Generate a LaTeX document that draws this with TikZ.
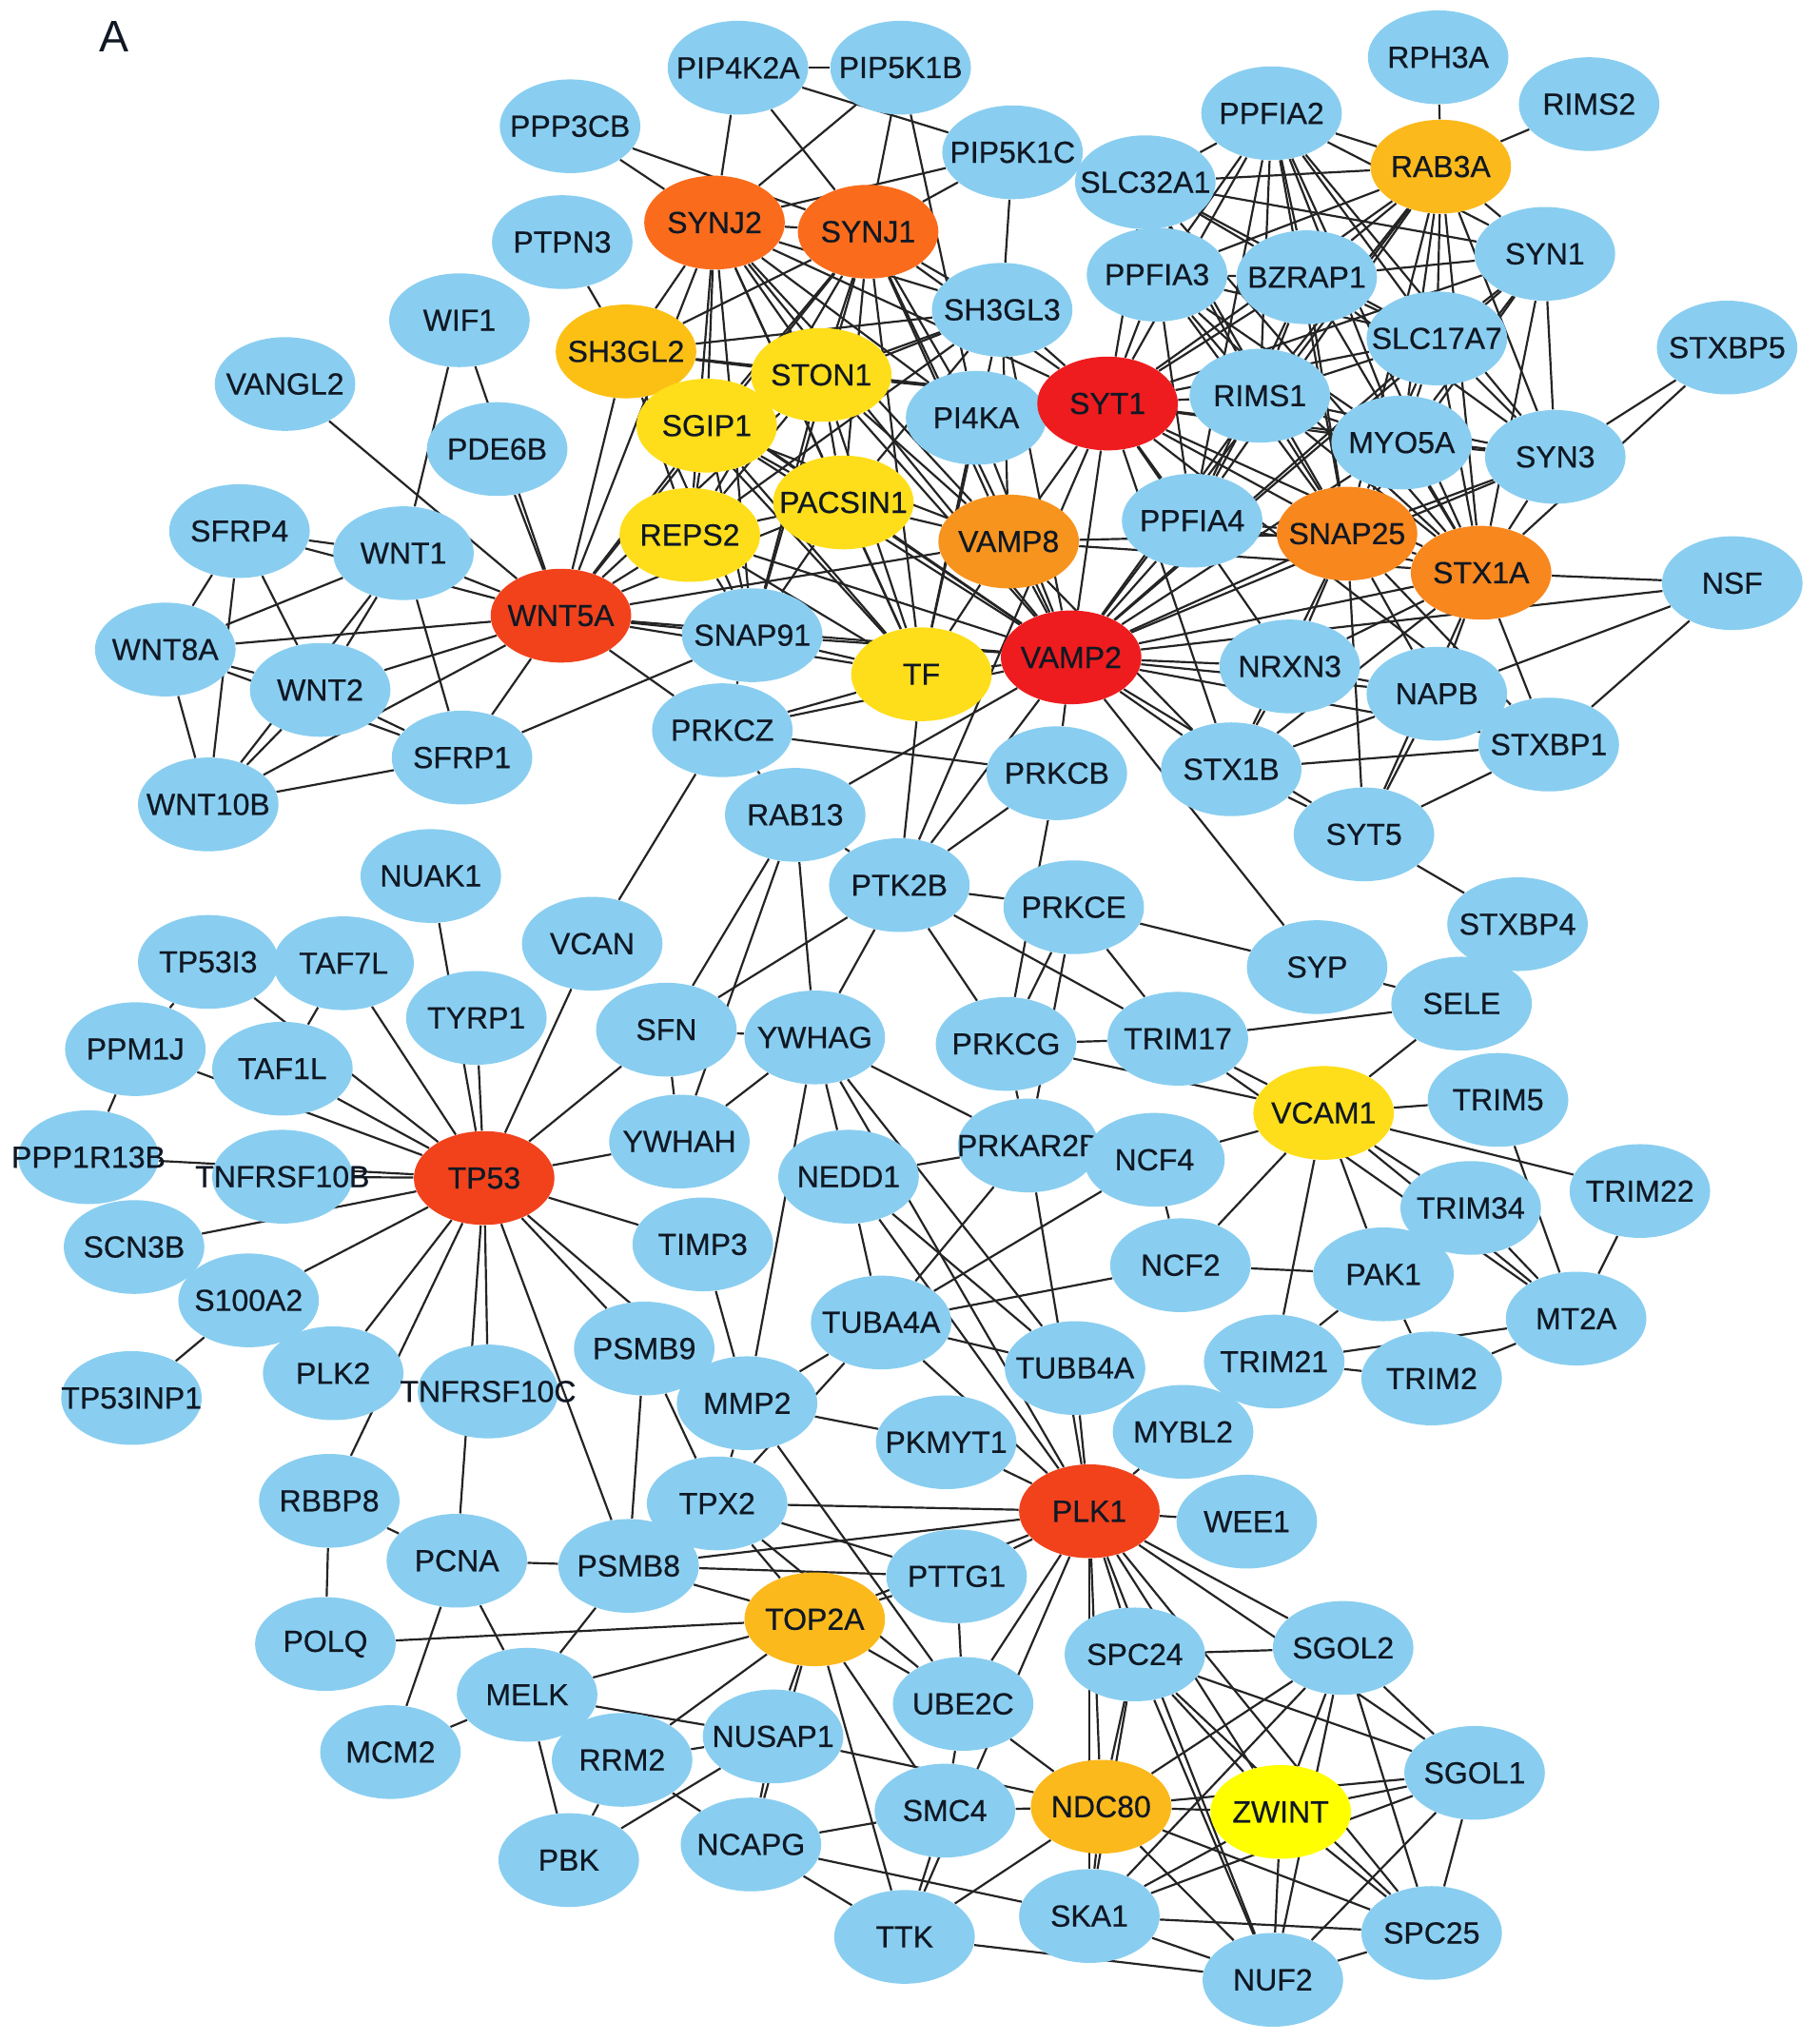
\documentclass[tikz,border=0pt]{standalone}
\usepackage{fontspec}
\setmainfont{Liberation Sans}
\newfontfamily\genefont{Liberation Sans}[FakeBold=0.5]
\usetikzlibrary{shapes.geometric,backgrounds}
\definecolor{gblue}{RGB}{137,206,240}
\definecolor{cred}{RGB}{238,28,30}
\definecolor{cro}{RGB}{241,66,28}
\definecolor{corgA}{RGB}{250,108,28}
\definecolor{corgB}{RGB}{248,135,30}
\definecolor{corgC}{RGB}{247,148,30}
\definecolor{camb}{RGB}{252,185,28}
\definecolor{cambB}{RGB}{252,192,20}
\definecolor{cyel}{RGB}{254,222,26}
\definecolor{czw}{RGB}{255,255,0}
\definecolor{gtxt}{RGB}{16,24,36}
\definecolor{edgec}{RGB}{36,36,36}
\tikzset{
  gene/.style={ellipse, minimum width=54pt, minimum height=36pt, inner sep=0pt,
    fill=gblue, text=gtxt, font=\genefont\fontsize{11.7}{13}\selectfont},
  link/.style={draw=edgec, line width=0.8pt}
}
\newcommand{\gname}[1]{\makebox[0pt][c]{#1}}
\begin{document}
\begin{tikzpicture}[x=0.5pt,y=-0.5pt]
\useasboundingbox (0,0) rectangle (1398,1568);
\begin{pgfonlayer}{background}
\fill[white] (0,0) rectangle (1398,1568);
\end{pgfonlayer}
\node[font=\fontsize{17}{19}\selectfont, text=gtxt] (lblA) at (88,28) {A};
% blue nodes
\foreach \n/\x/\y in {
PIP4K2A/567/52, PIP5K1B/692/52, PPP3CB/438/97, PIP5K1C/778/117, SLC32A1/880/140,
PPFIA2/977/87, RPH3A/1105/44, RIMS2/1221/80, PTPN3/432/186, SH3GL3/770/238,
PPFIA3/889/211, BZRAP1/1004/213, SYN1/1187/195, SLC17A7/1104/260, STXBP5/1327/267,
WIF1/353/246, PI4KA/750/321, RIMS1/968/304, MYO5A/1077/340, SYN3/1195/351,
VANGL2/219/295, PDE6B/382/345, PPFIA4/916/400, NSF/1331/448, SFRP4/184/408,
WNT1/310/425, SNAP91/578/488, NRXN3/991/512, NAPB/1104/533, STXBP1/1190/572,
WNT8A/127/499, WNT2/246/530, SFRP1/355/582, WNT10B/160/618, PRKCZ/555/561,
PRKCB/812/594, STX1B/946/591, SYT5/1048/641, RAB13/611/626, PTK2B/691/680,
PRKCE/825/697, STXBP4/1166/710, NUAK1/331/673, VCAN/455/725, TP53I3/160/739,
TAF7L/264/740, SYP/1012/743, SELE/1123/771, TYRP1/366/782, SFN/512/791,
YWHAG/626/797, PRKCG/773/802, TRIM17/905/798, PPM1J/104/806, TAF1L/217/821,
TRIM5/1151/845, YWHAH/522/877, PRKAR2B/790/880, NCF4/887/891, NEDD1/652/904,
PPP1R13B/68/889, TNFRSF10B/217/904, TRIM34/1130/928, TRIM22/1260/915, SCN3B/103/958,
TIMP3/540/956, NCF2/907/972, PAK1/1063/979, S100A2/191/999, MT2A/1211/1013,
TUBA4A/677/1016, PSMB9/495/1036, PLK2/256/1055, TNFRSF10C/375/1069, TRIM21/979/1046,
TUBB4A/826/1051, TRIM2/1100/1059, TP53INP1/101/1074, MMP2/574/1078, PKMYT1/727/1108,
MYBL2/909/1100, RBBP8/253/1153, TPX2/551/1155, WEE1/958/1169, PCNA/351/1199,
PSMB8/483/1203, PTTG1/735/1211, POLQ/250/1263, SPC24/872/1271, SGOL2/1032/1266,
MELK/405/1302, UBE2C/740/1309, MCM2/300/1346, RRM2/478/1352, NUSAP1/594/1334,
SGOL1/1133/1362, SMC4/726/1391, PBK/437/1429, NCAPG/577/1417, TTK/695/1488,
SKA1/837/1472, SPC25/1100/1485, NUF2/978/1521}
  \node[gene] (\n) at (\x,\y) {\gname{\n}};
% coloured nodes
\foreach \n/\x/\y/\c in {
VAMP2/823/505/cred, SYT1/851/310/cred, WNT5A/431/473/cro, TP53/372/905/cro,
PLK1/837/1161/cro, SYNJ2/549/171/corgA, SYNJ1/667/178/corgA, SNAP25/1035/410/corgB,
STX1A/1138/440/corgB, VAMP8/775/416/corgC, RAB3A/1107/128/camb, TOP2A/626/1244/camb,
NDC80/846/1388/camb, SH3GL2/481/270/cambB, STON1/631/288/cyel, SGIP1/543/327/cyel,
PACSIN1/648/386/cyel, REPS2/530/411/cyel, TF/708/518/cyel, VCAM1/1017/855/cyel,
ZWINT/984/1392/czw}
  \node[gene, fill=\c] (\n) at (\x,\y) {\gname{\n}};
\begin{pgfonlayer}{background}
\foreach \a/\b in {
VANGL2/WNT5A, WIF1/WNT5A, WIF1/WNT1, PDE6B/WNT5A, SFRP4/WNT1, SFRP4/WNT5A,
SFRP4/WNT8A, SFRP4/WNT10B, SFRP4/WNT2, WNT1/WNT8A, WNT1/WNT2, WNT1/WNT10B,
WNT1/SFRP1, WNT1/WNT5A, WNT8A/WNT5A, WNT8A/WNT2, WNT8A/SFRP1, WNT8A/WNT10B,
WNT2/WNT10B, WNT2/SFRP1, WNT2/WNT5A, WNT10B/SFRP1, WNT10B/WNT5A, SFRP1/WNT5A,
SFRP1/SNAP91, WNT5A/PRKCZ, WNT5A/SH3GL2, WNT5A/SGIP1, WNT5A/REPS2, WNT5A/STON1,
WNT5A/SNAP91, WNT5A/PACSIN1, WNT5A/TF, WNT5A/VAMP2, WNT5A/SYNJ2, WNT5A/SYNJ1,
WNT5A/VAMP8,
PIP4K2A/PIP5K1B, PIP4K2A/SYNJ2, PIP4K2A/SYNJ1, PIP4K2A/PIP5K1C, PIP5K1B/SYNJ2,
PIP5K1B/SYNJ1, PIP5K1B/PI4KA, PIP5K1C/SYNJ1, PIP5K1C/SYNJ2, PIP5K1C/SH3GL3,
PPP3CB/SYNJ2, PPP3CB/SYNJ1, PTPN3/SH3GL2,
SYNJ2/SYNJ1, SYNJ2/SH3GL2, SYNJ2/STON1, SYNJ2/SGIP1, SYNJ2/REPS2, SYNJ2/PACSIN1,
SYNJ2/SH3GL3, SYNJ2/VAMP2, SYNJ2/TF, SYNJ2/SNAP91, SYNJ2/VAMP8, SYNJ2/SYT1, SYNJ2/PI4KA,
SYNJ1/SH3GL2, SYNJ1/STON1, SYNJ1/SGIP1, SYNJ1/REPS2, SYNJ1/PACSIN1, SYNJ1/SH3GL3,
SYNJ1/VAMP2, SYNJ1/TF, SYNJ1/SNAP91, SYNJ1/VAMP8, SYNJ1/SYT1, SYNJ1/PI4KA,
SH3GL2/STON1, SH3GL2/SGIP1, SH3GL2/REPS2, SH3GL2/PACSIN1, SH3GL2/SH3GL3, SH3GL2/SNAP91,
SH3GL2/VAMP2, SH3GL2/TF, SH3GL2/SYT1,
SH3GL3/STON1, SH3GL3/SGIP1, SH3GL3/PACSIN1, SH3GL3/REPS2, SH3GL3/VAMP2, SH3GL3/SYT1,
SH3GL3/TF, SH3GL3/VAMP8,
STON1/SGIP1, STON1/PACSIN1, STON1/REPS2, STON1/SNAP91, STON1/VAMP2, STON1/TF,
STON1/SYT1, STON1/VAMP8,
SGIP1/PACSIN1, SGIP1/REPS2, SGIP1/SNAP91, SGIP1/VAMP2, SGIP1/TF, SGIP1/VAMP8,
PACSIN1/REPS2, PACSIN1/SNAP91, PACSIN1/VAMP2, PACSIN1/TF, PACSIN1/VAMP8,
REPS2/SNAP91, REPS2/VAMP2, REPS2/TF, SNAP91/TF, SNAP91/VAMP2,
PI4KA/VAMP2, PI4KA/TF, TF/VAMP2, TF/VAMP8,
VAMP8/VAMP2, VAMP8/SYT1, VAMP8/SNAP25, VAMP8/STX1A, VAMP8/STX1B,
SYT1/VAMP2, SYT1/SNAP25, SYT1/STX1A, SYT1/RIMS1, SYT1/RAB3A, SYT1/PPFIA2, SYT1/PPFIA3,
SYT1/SYN1, SYT1/SLC17A7, SYT1/NRXN3, SYT1/STXBP1, SYT1/STX1B, SYT1/BZRAP1,
SYT1/PPFIA4, SYT1/MYO5A, SYT1/SYN3, SYT1/SLC32A1,
VAMP2/SNAP25, VAMP2/STX1A, VAMP2/STX1B, VAMP2/NAPB, VAMP2/NRXN3, VAMP2/STXBP1,
VAMP2/SYT5, VAMP2/SYP, VAMP2/RAB3A, VAMP2/SYN1, VAMP2/SYN3, VAMP2/MYO5A,
VAMP2/PPFIA4, VAMP2/RIMS1, VAMP2/PTK2B, VAMP2/RAB13, VAMP2/PRKCZ, VAMP2/NSF,
VAMP2/SLC17A7, VAMP2/PRKCB,
RPH3A/RAB3A, RIMS2/RAB3A, PPFIA2/RAB3A, PPFIA2/SLC32A1, PPFIA2/PPFIA3, PPFIA2/BZRAP1,
PPFIA2/RIMS1, PPFIA2/SLC17A7, PPFIA2/PPFIA4, PPFIA2/SNAP25, PPFIA2/STX1A, PPFIA2/MYO5A,
PPFIA2/SYN1, PPFIA2/SYN3,
RAB3A/SLC32A1, RAB3A/PPFIA3, RAB3A/BZRAP1, RAB3A/SLC17A7, RAB3A/RIMS1, RAB3A/SNAP25,
RAB3A/STX1A, RAB3A/SYN1, RAB3A/SYN3, RAB3A/MYO5A, RAB3A/PPFIA4,
SLC32A1/PPFIA3, SLC32A1/BZRAP1, SLC32A1/SLC17A7, SLC32A1/SNAP25, SLC32A1/SYN1,
SLC32A1/RIMS1, SLC32A1/STX1A,
PPFIA3/BZRAP1, PPFIA3/RIMS1, PPFIA3/PPFIA4, PPFIA3/SNAP25, PPFIA3/STX1A,
PPFIA3/SLC17A7, PPFIA3/MYO5A,
BZRAP1/RIMS1, BZRAP1/SLC17A7, BZRAP1/SYN1, BZRAP1/SNAP25, BZRAP1/STX1A,
BZRAP1/PPFIA4, BZRAP1/SYN3,
SLC17A7/SYN1, SLC17A7/SNAP25, SLC17A7/STX1A, SLC17A7/SYN3, SLC17A7/RIMS1, SLC17A7/MYO5A,
SYN1/SYN3, SYN1/SNAP25, SYN1/STX1A, SYN1/MYO5A,
RIMS1/SNAP25, RIMS1/STX1A, RIMS1/PPFIA4, RIMS1/MYO5A, RIMS1/SYN3,
MYO5A/SNAP25, MYO5A/STX1A, MYO5A/SYN3, SYN3/SNAP25, SYN3/STX1A,
STXBP5/SYN3, STXBP5/STX1A, PPFIA4/SNAP25, PPFIA4/STX1A,
SNAP25/STX1A, SNAP25/NRXN3, SNAP25/NAPB, SNAP25/STXBP1, SNAP25/STX1B, SNAP25/SYT5,
STX1A/NSF, STX1A/NAPB, STX1A/STXBP1, STX1A/NRXN3, STX1A/STX1B, STX1A/SYT5,
NSF/NAPB, NSF/STXBP1, NRXN3/NAPB, NRXN3/STX1B, NAPB/STX1B, NAPB/STXBP1, NAPB/SYT5,
STX1B/STXBP1, STX1B/SYT5, STXBP1/SYT5, SYT5/STXBP4,
SNAP91/PRKCZ, PRKCZ/RAB13, PRKCZ/PRKCB, PRKCZ/TF, VCAN/PRKCZ,
RAB13/SFN, RAB13/YWHAH, RAB13/YWHAG, RAB13/PTK2B,
PTK2B/TF, PTK2B/PRKCB, PTK2B/PRKCE, PTK2B/PRKCG, PTK2B/TRIM17, PTK2B/YWHAG, PTK2B/SFN,
PTK2B/SYT1,
PRKCB/PRKCG, PRKCE/PRKCG, PRKCE/PRKAR2B, PRKCE/TRIM17, PRKCE/SYP,
PRKCG/TRIM17, PRKCG/VCAM1, PRKCG/PRKAR2B,
YWHAG/SFN, YWHAG/YWHAH, YWHAG/PRKAR2B, YWHAG/NEDD1, YWHAG/MMP2, YWHAG/TUBB4A,
YWHAG/PLK1, SFN/TP53, YWHAH/TP53, SFN/YWHAH,
NEDD1/PRKAR2B, NEDD1/TUBA4A, NEDD1/TUBB4A, NEDD1/PLK1,
PRKAR2B/PLK1, PRKAR2B/TUBA4A, NCF4/NCF2, NCF4/VCAM1, NCF4/TUBA4A, NCF2/TUBA4A,
NCF2/VCAM1, NCF2/PAK1,
TIMP3/MMP2, TP53/TIMP3, TP53/MMP2, TP53/PSMB9, TP53/PSMB8, TP53/TNFRSF10C, TP53/PCNA,
TP53/PLK2, TP53/RBBP8, TP53/S100A2, TP53/SCN3B, TP53/TNFRSF10B, TP53/PPP1R13B,
TP53/PPM1J, TP53/TAF1L, TP53/TP53I3, TP53/TAF7L, TP53/TYRP1, TP53/NUAK1, TP53/VCAN,
TP53I3/PPM1J, TAF7L/TAF1L, PPM1J/PPP1R13B, S100A2/TP53INP1,
RBBP8/PCNA, RBBP8/POLQ, PCNA/PSMB8, PCNA/MCM2, PCNA/MELK, POLQ/TOP2A, PSMB8/MELK,
MELK/MCM2, MELK/PBK, MELK/TOP2A, MELK/NUSAP1, MELK/RRM2, RRM2/PBK, NUSAP1/PBK,
PSMB9/PSMB8, PSMB9/TPX2,
MMP2/TUBA4A, MMP2/PKMYT1, MMP2/TPX2, MMP2/UBE2C,
TUBA4A/PLK1, TUBA4A/TUBB4A, TUBA4A/TPX2, TUBB4A/PLK1, PKMYT1/PLK1,
MYBL2/PLK1, WEE1/PLK1,
TPX2/PLK1, TPX2/TOP2A, TPX2/PTTG1, TPX2/PSMB8, TPX2/UBE2C,
PSMB8/PLK1, PSMB8/PTTG1, PSMB8/TOP2A,
PLK1/PTTG1, PLK1/UBE2C, PLK1/SPC24, PLK1/NDC80, PLK1/SKA1, PLK1/SGOL2, PLK1/SGOL1,
PLK1/ZWINT, PLK1/SPC25, PLK1/NUF2, PLK1/TOP2A, PLK1/TTK,
TOP2A/PTTG1, TOP2A/UBE2C, TOP2A/NUSAP1, TOP2A/NCAPG, TOP2A/SMC4, TOP2A/TTK,
TOP2A/RRM2, PTTG1/UBE2C, UBE2C/SMC4, UBE2C/NDC80,
NUSAP1/NDC80, NUSAP1/RRM2, NUSAP1/NCAPG, RRM2/NCAPG,
NCAPG/SMC4, NCAPG/TTK, NCAPG/SKA1, SMC4/NDC80, SMC4/TTK,
TTK/NDC80, TTK/NUF2,
SKA1/NDC80, SKA1/SPC24, SKA1/ZWINT, SKA1/NUF2, SKA1/SPC25, SKA1/SGOL2, SKA1/SGOL1,
NDC80/ZWINT, NDC80/SPC24, NDC80/SGOL2, NDC80/SGOL1, NDC80/NUF2, NDC80/SPC25,
SPC24/SGOL2, SPC24/SGOL1, SPC24/ZWINT, SPC24/SPC25, SPC24/NUF2,
SGOL2/SGOL1, SGOL2/ZWINT, SGOL2/SPC25, SGOL2/NUF2,
SGOL1/ZWINT, SGOL1/SPC25, SGOL1/NUF2, ZWINT/SPC25, ZWINT/NUF2, SPC25/NUF2,
TRIM17/SELE, TRIM17/VCAM1, SYP/SELE, SELE/VCAM1,
VCAM1/TRIM5, VCAM1/TRIM22, VCAM1/TRIM34, VCAM1/PAK1, VCAM1/TRIM21, VCAM1/MT2A,
TRIM17/MT2A, TRIM34/MT2A, TRIM5/MT2A, TRIM22/MT2A,
TRIM21/PAK1, TRIM21/TRIM2, TRIM21/MT2A, PAK1/TRIM2, TRIM2/MT2A}
  \draw[link] (\a) -- (\b);
\end{pgfonlayer}
\end{tikzpicture}
\end{document}
